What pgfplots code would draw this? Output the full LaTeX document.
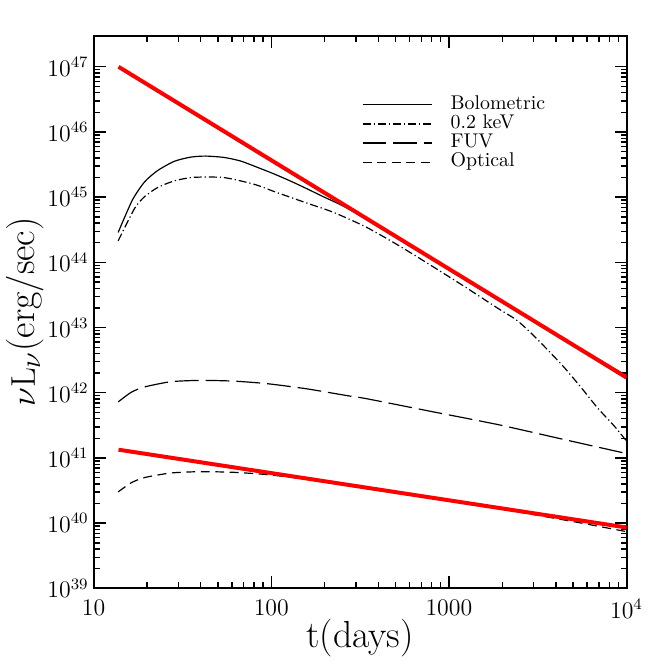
\documentclass[border=0pt]{standalone}
\usepackage{pgfplots}
\pgfplotsset{compat=1.18}
\usetikzlibrary{calc}
\begin{document}
\begin{tikzpicture}
\begin{axis}[
    name=ax,
    scale only axis,
    width=268.5pt, height=278.5pt,
    xmode=log, ymode=log,
    xmin=10, xmax=10000,
    ymin=1e39, ymax=3e47,
    xtick={10,100,1000,10000},
    xticklabels={10,100,1000,$10^4$},
    ytick={1e39,1e40,1e41,1e42,1e43,1e44,1e45,1e46,1e47},
    tick align=inside,
    major tick length=6pt,
    minor tick length=3pt,
    every tick/.style={black, line width=0.7pt},
    axis line style={line width=1pt},
    ticklabel style={font=\fontsize{12}{14}\selectfont},
    xticklabel style={yshift=-2pt},
    yticklabel style={xshift=1pt},
    xlabel={t(days)},
    ylabel={$\nu\mathrm{L}_\nu$(erg/sec)},
    xlabel style={font=\fontsize{19}{22}\selectfont, at={(axis description cs:0.5,0)}, anchor=base, yshift=-30pt},
    ylabel style={font=\fontsize{19}{23}\selectfont, at={(axis description cs:-0.128,0.5)}, anchor=center},
    legend cell align=left,
    legend image code/.code={\draw[#1] (0pt,0pt) -- (35pt,0pt);},
    legend style={at={(0.503,0.893)}, anchor=north west, draw=none, fill=none,
        inner sep=0pt, font=\fontsize{10}{12}\selectfont,
        nodes={inner xsep=0pt, inner ysep=0.25pt, text height=6.8pt, text depth=2.35pt},
        /tikz/every odd column/.append style={column sep=9pt}},
]
% Bolometric
\addplot[black, line width=0.6pt, smooth, tension=0.4] coordinates {
    (13.74, 2.88e44) (16.52, 9.04e44) (19.36, 1.72e45) (22.96, 2.57e45)
    (28.44, 3.55e45) (35.24, 4.12e45) (42.76, 4.27e45) (54.20, 4.07e45)
    (67.14, 3.59e45) (83.18, 2.88e45) (103.0, 2.29e45) (127.6, 1.78e45)
    (158.5, 1.35e45) (195.9, 1.02e45) (241.0, 7.85e44) (302.0, 5.69e44)
    (398.1, 3.63e44) (1000, 7.94e43) (3162, 1.19e43) (10000, 1.82e42)
};
\addlegendentry{Bolometric}
% 0.2 keV
\addplot[black, line width=0.6pt, smooth, tension=0.4, dash pattern=on 4pt off 1.5pt on 0.6pt off 1.5pt] coordinates {
    (13.74, 2.14e44) (17.02, 6.76e44) (19.36, 1.02e45) (22.96, 1.41e45)
    (28.44, 1.78e45) (35.24, 2.00e45) (43.75, 2.04e45) (54.20, 2.00e45)
    (67.14, 1.78e45) (83.18, 1.53e45) (103.0, 1.23e45) (127.6, 1.00e45)
    (158.5, 8.13e44) (222.8, 5.89e44) (342.8, 3.47e44) (526.0, 1.79e44)
    (807.2, 8.71e43) (1239, 4.17e43) (1901, 1.95e43) (2400, 1.31e43)
    (2917, 8.13e42) (3622, 4.47e42) (4487, 2.40e42) (5559, 1.20e42)
    (6887, 5.82e41) (8531, 3.09e41) (10000, 1.82e41)
};
\addlegendentry{0.2 keV}
% FUV
\addplot[black, line width=0.6pt, smooth, tension=0.4, dash pattern=on 12pt off 3.5pt] coordinates {
    (13.74, 7.24e41) (16.29, 1.02e42) (19.36, 1.23e42) (27.29, 1.48e42)
    (40.09, 1.55e42) (61.52, 1.51e42) (94.62, 1.38e42) (158.5, 1.15e42)
    (276.1, 8.91e41) (342.8, 8.13e41) (807.2, 5.13e41) (1901, 3.24e41)
    (4487, 1.91e41) (10000, 1.17e41)
};
\addlegendentry{FUV}
% Optical
\addplot[black, line width=0.6pt, smooth, tension=0.4, dash pattern=on 4.5pt off 2.8pt] coordinates {
    (13.74, 3.02e40) (16.29, 4.17e40) (19.36, 5.01e40) (27.29, 5.89e40)
    (40.09, 6.17e40) (61.52, 6.03e40) (94.62, 5.56e40) (158.5, 4.73e40)
    (276.1, 3.80e40) (1000, 2.21e40) (1901, 1.68e40) (3162, 1.32e40)
    (5623, 1.00e40) (10000, 7.41e39)
};
\addlegendentry{Optical}
% power laws
\addplot[red, line width=2pt, forget plot] coordinates {(13.8, 1e47) (10000, 1.71e42)};
\addplot[red, line width=2pt, forget plot] coordinates {(13.8, 1.34e41) (10000, 8.59e39)};
\end{axis}
\path ($(ax.south west)+(-46pt,-35.5pt)$) rectangle ($(ax.north east)+(17.5pt,18pt)$);
\end{tikzpicture}
\end{document}
